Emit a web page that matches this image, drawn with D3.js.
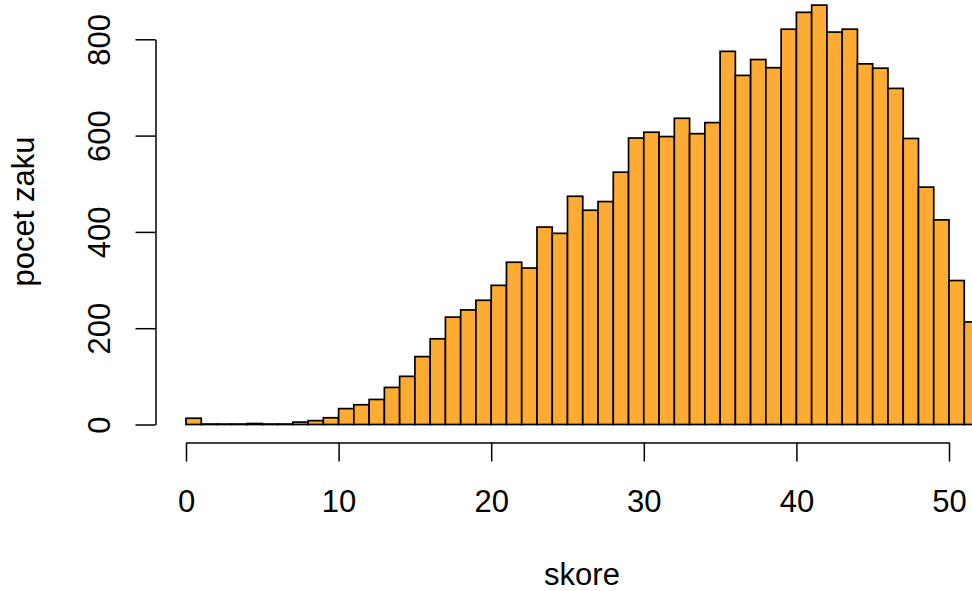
<!DOCTYPE html>
<html>
<head>
<meta charset="utf-8">
<script src="https://cdn.jsdelivr.net/npm/d3@7"></script>
<style>
  html, body { margin: 0; padding: 0; background: #fff; }
  svg { display: block; font-family: "Liberation Sans", Arial, sans-serif; }
</style>
</head>
<body>
<div id="chart"></div>
<script>
// Histogram of scores: bin start (width 1) and count per bin
const binStarts = d3.range(0, 52);
const counts = [
  13, 1, 1, 1, 2, 1, 1, 5, 8, 14,
  33, 41, 52, 77, 100, 141, 178, 223, 238, 258,
  289, 337, 325, 410, 397, 474, 445, 463, 524, 595,
  607, 598, 636, 604, 627, 775, 725, 758, 741, 821,
  856, 871, 815, 821, 749, 740, 698, 594, 493, 425,
  299, 213
];
const xTicks = [0, 10, 20, 30, 40, 50];
const yTicks = [0, 200, 400, 600, 800];
const xLabel = 'skore';
const yLabel = 'pocet zaku';

const W = 972, H = 591;
const FONT = 31;
const FILL = '#FEAB33';

const svg = d3.select('#chart').append('svg')
  .attr('width', W).attr('height', H);

const x = d3.scaleLinear().domain([0, 50]).range([186, 949]);
const y = d3.scaleLinear().domain([0, 800]).range([424.5, 39.3]);

// Bars
svg.append('g').selectAll('rect')
  .data(binStarts.map((b, i) => ({ b, v: counts[i] })))
  .join('rect')
  .attr('x', d => x(d.b))
  .attr('width', d => x(d.b + 1) - x(d.b))
  .attr('y', d => y(d.v))
  .attr('height', d => y(0) - y(d.v))
  .attr('fill', FILL)
  .attr('stroke', '#000')
  .attr('stroke-width', 1.7);

// X axis (R style: detached below plot)
const gx = svg.append('g')
  .attr('transform', 'translate(0,442.5)')
  .call(d3.axisBottom(x).tickValues(xTicks).tickSize(19).tickSizeOuter(0).tickFormat(d3.format('d')));
gx.select('.domain').attr('stroke', '#000').attr('stroke-width', 1.5);
gx.selectAll('.tick line').attr('stroke', '#000').attr('stroke-width', 1.5);
gx.selectAll('.tick text')
  .attr('y', 69).attr('dy', 0)
  .attr('font-size', FONT)
  .attr('font-family', '"Liberation Sans", Arial, sans-serif')
  .attr('fill', '#000');

// Y axis with rotated labels
const gy = svg.append('g')
  .attr('transform', 'translate(155.5,0)')
  .call(d3.axisLeft(y).tickValues(yTicks).tickSize(20).tickSizeOuter(0).tickFormat(d3.format('d')));
gy.select('.domain').attr('stroke', '#000').attr('stroke-width', 1.5);
gy.selectAll('.tick line').attr('stroke', '#000').attr('stroke-width', 1.5);
gy.selectAll('.tick text')
  .attr('x', 0).attr('y', 0).attr('dy', 0)
  .attr('transform', 'translate(-45.5,0) rotate(-90)')
  .attr('text-anchor', 'middle')
  .attr('font-size', FONT)
  .attr('font-family', '"Liberation Sans", Arial, sans-serif')
  .attr('fill', '#000');

// Axis titles
svg.append('text')
  .attr('x', 582).attr('y', 585)
  .attr('text-anchor', 'middle')
  .attr('font-size', FONT)
  .attr('fill', '#000')
  .text(xLabel);

svg.append('text')
  .attr('transform', 'translate(34,211.5) rotate(-90)')
  .attr('text-anchor', 'middle')
  .attr('font-size', FONT)
  .attr('fill', '#000')
  .text(yLabel);
</script>
</body>
</html>
